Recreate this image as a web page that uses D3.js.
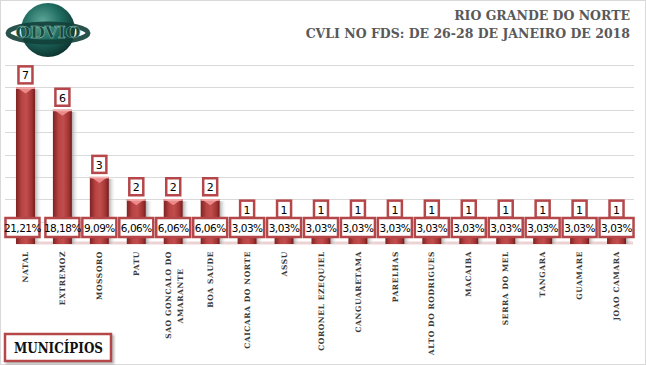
<!DOCTYPE html>
<html><head><meta charset="utf-8">
<script src="https://cdn.jsdelivr.net/npm/d3@7"></script>
<style>
html,body{margin:0;padding:0;background:#fff;}
svg{display:block;}
</style></head>
<body>
<script>
const categories = ["NATAL","EXTREMOZ","MOSSORO","PATU","SAO GONCALO DO|AMARANTE","BOA SAUDE","CAICARA DO NORTE","ASSU","CORONEL EZEQUIEL","CANGUARETAMA","PARELHAS","ALTO DO RODRIGUES","MACAIBA","SERRA DO MEL","TANGARA","GUAMARE","JOAO CAMARA"];
const values = [7,6,3,2,2,2,1,1,1,1,1,1,1,1,1,1,1];
const percentLabels = ["21,21%","18,18%","9,09%","6,06%","6,06%","6,06%","3,03%","3,03%","3,03%","3,03%","3,03%","3,03%","3,03%","3,03%","3,03%","3,03%","3,03%"];
const gridTicks = [1,2,3,4,5,6,7,8];
const titleLines = ["RIO GRANDE DO NORTE","CVLI NO FDS: DE 26-28 DE JANEIRO DE 2018"];
const axisTitle = "MUNICÍPIOS";

const W=646,H=365;
const svg=d3.select("body").append("svg").attr("width",W).attr("height",H);
const defs=svg.append("defs");

const g1=defs.append("linearGradient").attr("id","barg").attr("x1","0").attr("x2","1").attr("y1","0").attr("y2","0");
[[0,"#7e2222"],[0.3,"#b84444"],[0.55,"#c24d4d"],[0.85,"#a03232"],[1,"#6e1a1a"]].forEach(s=>g1.append("stop").attr("offset",s[0]).attr("stop-color",s[1]));
const g2=defs.append("linearGradient").attr("id","shadg").attr("x1","0").attr("x2","1").attr("y1","0").attr("y2","0");
[[0,"#9a9a9a",0.8],[1,"#ffffff",0]].forEach(s=>g2.append("stop").attr("offset",s[0]).attr("stop-color",s[1]).attr("stop-opacity",s[2]));
const rg=defs.append("radialGradient").attr("id","globe").attr("cx","0.4").attr("cy","0.35").attr("r","0.7");
[[0,"#5fa89a"],[0.5,"#1f6b60"],[1,"#0b2f2b"]].forEach(s=>rg.append("stop").attr("offset",s[0]).attr("stop-color",s[1]));
const fl=defs.append("filter").attr("id","ds").attr("x","-20%").attr("y","-20%").attr("width","150%").attr("height","160%");
fl.append("feDropShadow").attr("dx",2).attr("dy",2).attr("stdDeviation",1.2).attr("flood-color","#888").attr("flood-opacity",0.6);

svg.append("rect").attr("x",0.5).attr("y",0.5).attr("width",W-1).attr("height",H-1).attr("fill","#fff").attr("stroke","#d9d9d9");

const x=d3.scaleBand().domain(categories).range([7,635]).paddingInner(0).paddingOuter(0);
const y=d3.scaleLinear().domain([0,8]).range([244,65]);

svg.append("g").selectAll("line").data(gridTicks).join("line")
  .attr("x1",5).attr("x2",634).attr("y1",d=>Math.round(y(d))+0.5).attr("y2",d=>Math.round(y(d))+0.5)
  .attr("stroke","#d9d9d9").attr("stroke-width",1);

svg.append("path").attr("d",`M${x.range()[0]+10},${y(0)-1} L${x.range()[1]-2},${y(0)-1}`).attr("stroke","#e8c8c8").attr("stroke-width",3).attr("opacity",0.8);

const bw=19;
const bars=svg.append("g").selectAll("g").data(categories).join("g")
  .attr("transform",(d)=>`translate(${x(d)+x.bandwidth()/2},0)`);
bars.append("rect").attr("x",bw/2).attr("y",(d,i)=>y(values[i])+2).attr("width",7)
  .attr("height",(d,i)=>y(0)-y(values[i])-2).attr("fill","url(#shadg)");
bars.append("rect").attr("x",-bw/2).attr("y",(d,i)=>y(values[i])).attr("width",bw)
  .attr("height",(d,i)=>y(0)-y(values[i])).attr("fill","url(#barg)");
bars.append("path").attr("d",(d,i)=>{const t=y(values[i]);return `M${-bw/2+1},${t} L${bw/2-1},${t} L0,${t+6} Z`;})
  .attr("fill","#ec8a8a");
bars.append("rect").attr("x",-bw/2).attr("y",(d,i)=>y(values[i])).attr("width",bw).attr("height",1.5).attr("fill","#f3b0b0");

const vl=bars.append("g").attr("transform",(d,i)=>`translate(0,${y(values[i])-12})`);
vl.append("rect").attr("x",-7).attr("y",-9).attr("width",14).attr("height",17).attr("fill","#fff").attr("stroke","#b5474a").attr("stroke-width",2.5);
vl.append("text").attr("text-anchor","middle").attr("y",4).attr("font-family","DejaVu Sans, sans-serif").attr("font-size",11).attr("fill","#000").text((d,i)=>values[i]);

const pl=bars.append("g").attr("transform",(d,i)=>`translate(${i===0?-3:0},${y(0)-17})`);
pl.append("rect").attr("x",-17).attr("y",-9).attr("width",34).attr("height",19).attr("fill","#fff").attr("stroke","#b5474a").attr("stroke-width",2.5);
pl.append("text").attr("text-anchor","middle").attr("y",5).attr("font-family","DejaVu Sans, sans-serif").attr("font-size",10.5).attr("letter-spacing",-0.5).attr("fill","#000").text((d,i)=>percentLabels[i]);

const lblFont={"font-family":"DejaVu Serif, serif","font-size":7.5,"font-weight":"bold","letter-spacing":0.6,"fill":"#3a3a3a"};
function styl(t){for(const k in lblFont) t.attr(k,lblFont[k]); return t;}
const xl=svg.append("g").selectAll("g").data(categories).join("g")
  .attr("transform",d=>`translate(${x(d)+x.bandwidth()/2},251) rotate(-90)`);
xl.each(function(d){
  const lines=d.split("|");
  const g=d3.select(this);
  if(lines.length===1){
    styl(g.append("text").attr("text-anchor","end").attr("dy","0.35em")).text(lines[0]);
  } else {
    styl(g.append("text").attr("text-anchor","end").attr("y",-5).attr("dy","0.35em")).text(lines[0]);
    styl(g.append("text").attr("text-anchor","middle").attr("x",-45).attr("y",7).attr("dy","0.35em")).text(lines[1]);
  }
});

svg.append("g").selectAll("text").data(titleLines).join("text")
  .attr("x",630).attr("y",(d,i)=>20+i*17.5).attr("text-anchor","end")
  .attr("font-family","DejaVu Serif, serif").attr("font-weight","bold").attr("font-size",12.5).attr("fill","#595959").text(d=>d);

svg.append("rect").attr("x",5).attr("y",334).attr("width",106).attr("height",27).attr("fill","#fff").attr("stroke","#b5474a").attr("stroke-width",2.5).attr("filter","url(#ds)");
svg.append("text").attr("x",14).attr("y",353).attr("textLength",89).attr("lengthAdjust","spacingAndGlyphs").attr("font-family","DejaVu Serif, serif").attr("font-weight","bold").attr("font-size",14).attr("fill","#111").text(axisTitle);

const lg=svg.append("g").attr("transform","translate(48,30)");
lg.append("circle").attr("r",27).attr("fill","url(#globe)");
lg.append("ellipse").attr("rx",40).attr("ry",9).attr("cy",3).attr("fill","none").attr("stroke","#123f39").attr("stroke-width",5).attr("opacity",0.9);
lg.append("text").attr("text-anchor","middle").attr("y",8).attr("font-family","DejaVu Serif, serif").attr("font-weight","bold").attr("font-size",17).attr("fill","#16463f").attr("stroke","#8fc4b8").attr("stroke-width",0.5).text("ODVIO");
</script>
</body></html>
